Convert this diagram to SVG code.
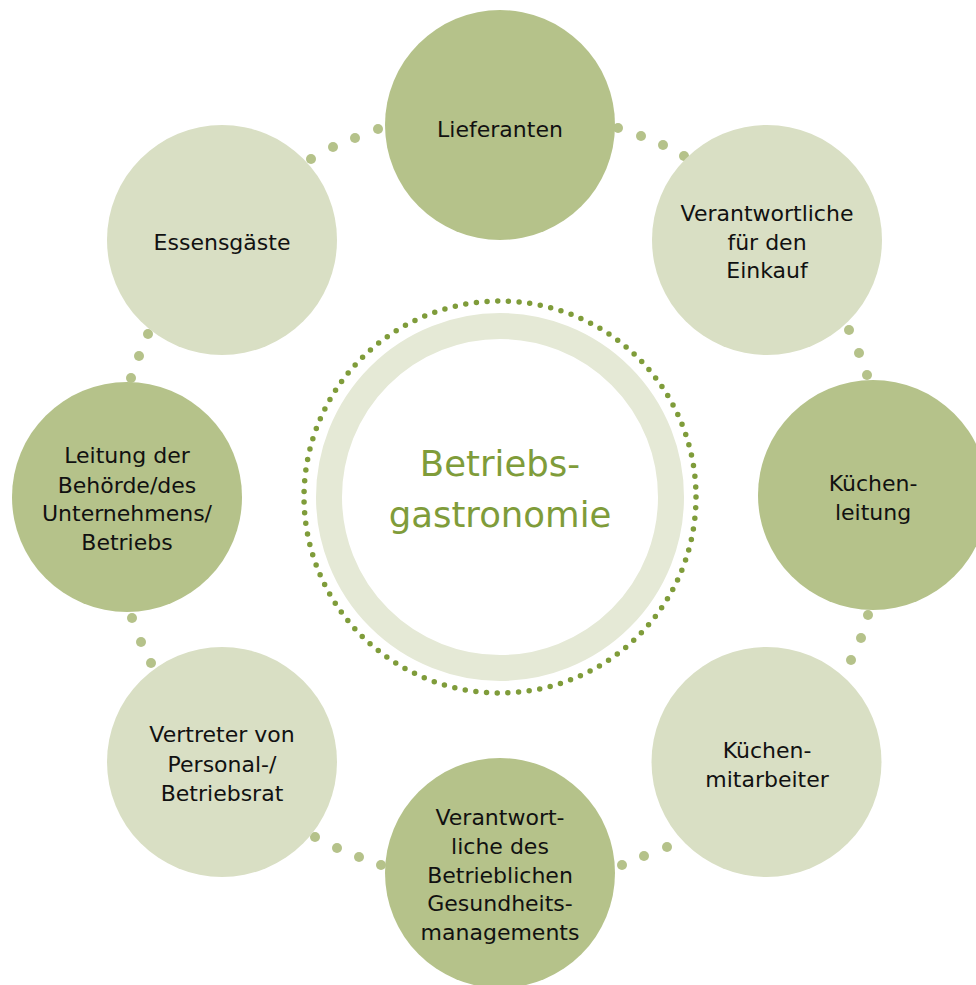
<svg xmlns="http://www.w3.org/2000/svg" width="976" height="985" viewBox="0 0 976 985">
<style>
.dark{fill:#b5c28a}
.light{fill:#d9dfc4}
.dot{fill:#b5c28a}
.lbl{font-family:"DejaVu Sans",sans-serif;font-size:22px;fill:#111;text-anchor:middle}
.ctr{font-family:"DejaVu Sans",sans-serif;font-size:35.5px;fill:#7f9c3a;text-anchor:middle}
</style>
<rect width="976" height="985" fill="#fff"/>
<g id="connectors">
<circle class="dot" cx="618" cy="128" r="5"/><circle class="dot" cx="641" cy="136" r="5"/><circle class="dot" cx="663" cy="145" r="5"/><circle class="dot" cx="684" cy="156" r="5"/>
<circle class="dot" cx="849" cy="330" r="5"/><circle class="dot" cx="859" cy="353" r="5"/><circle class="dot" cx="867" cy="375" r="5"/>
<circle class="dot" cx="868" cy="615" r="5"/><circle class="dot" cx="861" cy="638" r="5"/><circle class="dot" cx="851" cy="660" r="5"/>
<circle class="dot" cx="667" cy="847" r="5"/><circle class="dot" cx="644" cy="856" r="5"/><circle class="dot" cx="622" cy="865" r="5"/>
<circle class="dot" cx="381" cy="865" r="5"/><circle class="dot" cx="359" cy="857" r="5"/><circle class="dot" cx="337" cy="848" r="5"/><circle class="dot" cx="315" cy="837" r="5"/>
<circle class="dot" cx="151" cy="663" r="5"/><circle class="dot" cx="141" cy="642" r="5"/><circle class="dot" cx="132" cy="618" r="5"/>
<circle class="dot" cx="131" cy="378" r="5"/><circle class="dot" cx="139" cy="356" r="5"/><circle class="dot" cx="148" cy="334" r="5"/>
<circle class="dot" cx="311" cy="159" r="5"/><circle class="dot" cx="333" cy="147" r="5"/><circle class="dot" cx="355" cy="138" r="5"/><circle class="dot" cx="378" cy="129" r="5"/>
</g>
<g id="center">
<circle cx="500" cy="497" r="196" fill="none" stroke="#7f9c3a" stroke-width="5.5" stroke-linecap="round" stroke-dasharray="0 10.709"/>
<circle cx="500" cy="497" r="171" fill="#fff" stroke="#e5e9d6" stroke-width="26"/>
<text class="ctr" x="500" y="476">Betriebs-</text>
<text class="ctr" x="500" y="527">gastronomie</text>
</g>
<g id="lieferanten">
<circle class="dark" cx="500" cy="125" r="115"/>
<text class="lbl" x="500" y="137">Lieferanten</text>
</g>
<g id="einkauf">
<circle class="light" cx="767" cy="240" r="115"/>
<text class="lbl" x="767" y="221">Verantwortliche</text>
<text class="lbl" x="767" y="249.5">für den</text>
<text class="lbl" x="767" y="278">Einkauf</text>
</g>
<g id="kuechenleitung">
<circle class="dark" cx="873" cy="495" r="115"/>
<text class="lbl" x="873" y="491">Küchen-</text>
<text class="lbl" x="873" y="520">leitung</text>
</g>
<g id="kuechenmitarbeiter">
<circle class="light" cx="766.5" cy="762" r="115"/>
<text class="lbl" x="767" y="757.5">Küchen-</text>
<text class="lbl" x="767" y="786.5">mitarbeiter</text>
</g>
<g id="bgm">
<circle class="dark" cx="500" cy="873" r="115"/>
<text class="lbl" x="500" y="825">Verantwort-</text>
<text class="lbl" x="500" y="853.5">liche des</text>
<text class="lbl" x="500" y="883">Betrieblichen</text>
<text class="lbl" x="500" y="911">Gesundheits-</text>
<text class="lbl" x="500" y="940">managements</text>
</g>
<g id="vertreter">
<circle class="light" cx="222" cy="762" r="115"/>
<text class="lbl" x="222" y="742">Vertreter von</text>
<text class="lbl" x="222" y="771.5">Personal-/</text>
<text class="lbl" x="222" y="801">Betriebsrat</text>
</g>
<g id="leitung">
<circle class="dark" cx="127" cy="497" r="115"/>
<text class="lbl" x="127" y="463">Leitung der</text>
<text class="lbl" x="127" y="492.5">Behörde/des</text>
<text class="lbl" x="127" y="521">Unternehmens/</text>
<text class="lbl" x="127" y="550">Betriebs</text>
</g>
<g id="essensgaeste">
<circle class="light" cx="222" cy="240" r="115"/>
<text class="lbl" x="222" y="250">Essensgäste</text>
</g>
</svg>
